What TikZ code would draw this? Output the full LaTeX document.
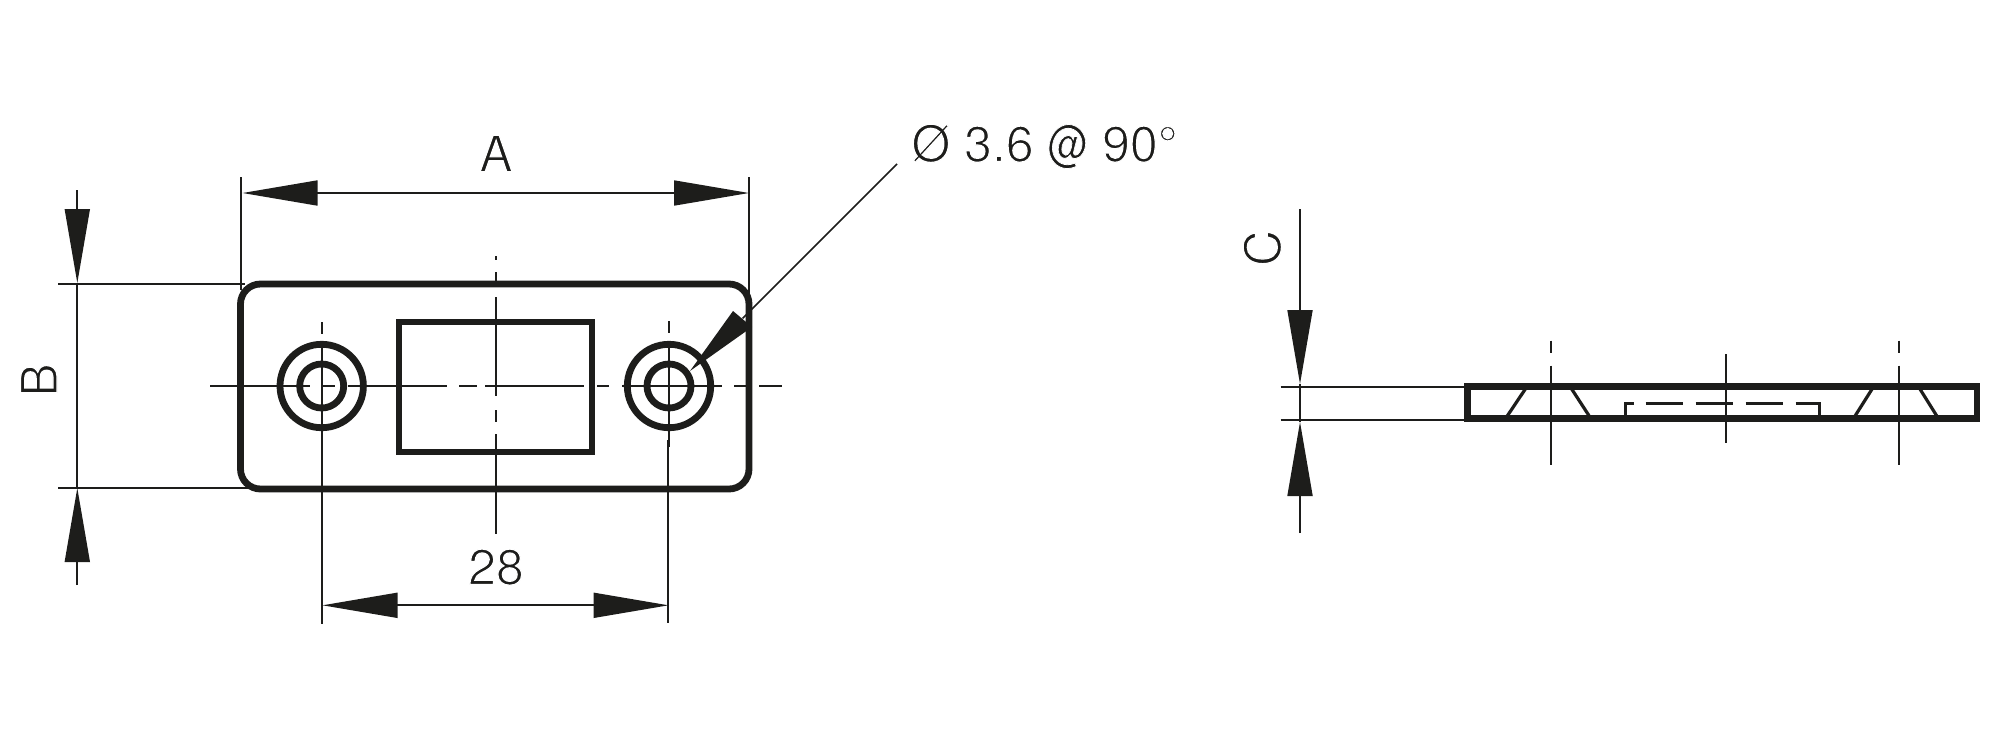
\documentclass[tikz,border=0pt]{standalone}
\usepackage{fontspec}
\usetikzlibrary{arrows.meta}
\newfontfamily\dimfont{TeX Gyre Heros}
\definecolor{ink}{HTML}{1D1D1B}
\newcommand{\lighttext}[1]{\special{pdf:code 2 Tr 0.6 w 1 1 1 RG}#1\special{pdf:code 0 Tr}}
\newcommand{\narrowat}{\scalebox{0.8}[1]{\special{pdf:code 2 Tr 0.4 w 1 1 1 RG}@\special{pdf:code 0 Tr}}}
\tikzset{
  x=0.5pt,y=-0.5pt,
  thick outline/.style={draw=ink,line width=3.4pt,line join=miter},
  thin line/.style={draw=ink,line width=0.85pt},
  center line/.style={draw=ink,line width=1pt},
  hidden line/.style={draw=ink,line width=1.6pt},
  dim tip/.style={-{Triangle[length=37pt,width=12.5pt,color=ink]}},
  dim tips/.style={{Triangle[length=37.5pt,width=12.5pt,color=ink]}-{Triangle[length=37.5pt,width=12.5pt,color=ink]}},
  dim label/.style={text=ink,inner sep=0pt,font=\dimfont\fontsize{25}{30}\selectfont},
}
\begin{document}
\begin{tikzpicture}
\useasboundingbox (0,0) rectangle (2000,750);
% plate
\draw[thick outline,rounded corners=10pt] (240.5,284) rectangle (749,489);
\draw[thick outline] (399,322) rectangle (592,452);
\draw[thick outline] (321.7,386) circle[radius=41.7];
\draw[thick outline] (321.7,386) circle[radius=22];
\draw[thick outline] (669,386) circle[radius=41.7];
\draw[thick outline] (669,386) circle[radius=22];
% centre lines, front view
\draw[center line] (210,386)--(310,386) (323,386)--(335,386) (348,386)--(447,386)
  (459,386)--(477,386) (485,386)--(584,386) (597,386)--(609,386) (622,386)--(722,386)
  (734,386)--(750,386) (759,386)--(782,386);
\draw[center line] (495.7,256)--(495.7,260) (495.7,272)--(495.7,285) (495.7,297)--(495.7,396)
  (495.7,410)--(495.7,422) (495.7,434)--(495.7,534);
\draw[center line] (321.7,322)--(321.7,334) (321.7,347)--(321.7,446);
\draw[center line] (669,321)--(669,333) (669,346)--(669,447);
% dimension A
\coordinate (al) at (242.5,193); \coordinate (ar) at (749,193);
\draw[thin line] (240.7,177)--(240.7,290) (749,177)--(749,300);
\draw[thin line,dim tips] (al)--(ar);
\node[dim label,anchor=base] (labelA) at (496,171.7) {\lighttext{A}};
% dimension B
\coordinate (bt) at (77.3,190); \coordinate (bti) at (77.3,283);
\coordinate (bb) at (77.3,585); \coordinate (bbi) at (77.3,488);
\draw[thin line] (58,284)--(245,284) (58,488)--(248,488);
\draw[thin line] (bti)--(bbi);
\draw[thin line,dim tip] (bt)--(bti);
\draw[thin line,dim tip] (bb)--(bbi);
\node[dim label,rotate=90,anchor=base] (labelB) at (57,380) {\lighttext{B}};
% dimension 28
\coordinate (dl) at (322.5,605.3); \coordinate (dr) at (668.5,605.3);
\draw[thin line] (321.7,440)--(321.7,624) (668,440)--(668,623);
\draw[thin line,dim tips] (dl)--(dr);
\node[dim label,anchor=base] (label28) at (496,584.5) {\lighttext{28}};
% leader
\coordinate (lead) at (897,164); \coordinate (leadtip) at (690,371); \coordinate (leadbase) at (742.5,318.5);
\draw[thin line] (lead)--(leadbase);
\fill[ink] (leadtip)--(733,311)--(752,327)--cycle;
\node[dim label,anchor=base west] (labelHole) at (911,161.5) {\lighttext{Ø 3.6\ }\narrowat\lighttext{\ 90°}};
% side view
\draw[thick outline] (1467.5,386.7) rectangle (1977,418.7);
\draw[hidden line] (1507.2,416)--(1526,388) (1571,388)--(1589.2,416)
  (1855,416)--(1872.7,388) (1919.3,388)--(1936.8,416);
\draw[hidden line] (1625.4,416)--(1625.4,403.3)--(1633.8,403.3)
  (1645.7,403.3)--(1683.3,403.3) (1695.5,403.3)--(1733.4,403.3) (1745.7,403.3)--(1783.2,403.3)
  (1795.5,403.3)--(1819.3,403.3)--(1819.3,416);
\draw[center line] (1551.4,340.7)--(1551.4,352.7) (1551.4,365.7)--(1551.4,465);
\draw[center line] (1725.7,354)--(1725.7,442.7);
\draw[center line] (1899,340.7)--(1899,352.7) (1899,365.7)--(1899,465);
% dimension C
\coordinate (ct) at (1300,209); \coordinate (cti) at (1300,384);
\coordinate (cb) at (1300,533); \coordinate (cbi) at (1300,422);
\draw[thin line] (1280.7,386.7)--(1465,386.7) (1280.7,419.7)--(1465,419.7);
\draw[thin line] (cti)--(cbi);
\draw[thin line,dim tip] (ct)--(cti);
\draw[thin line,dim tip] (cb)--(cbi);
\node[dim label,rotate=90,anchor=base] (labelC) at (1280.5,248) {\lighttext{C}};
\end{tikzpicture}
\end{document}
